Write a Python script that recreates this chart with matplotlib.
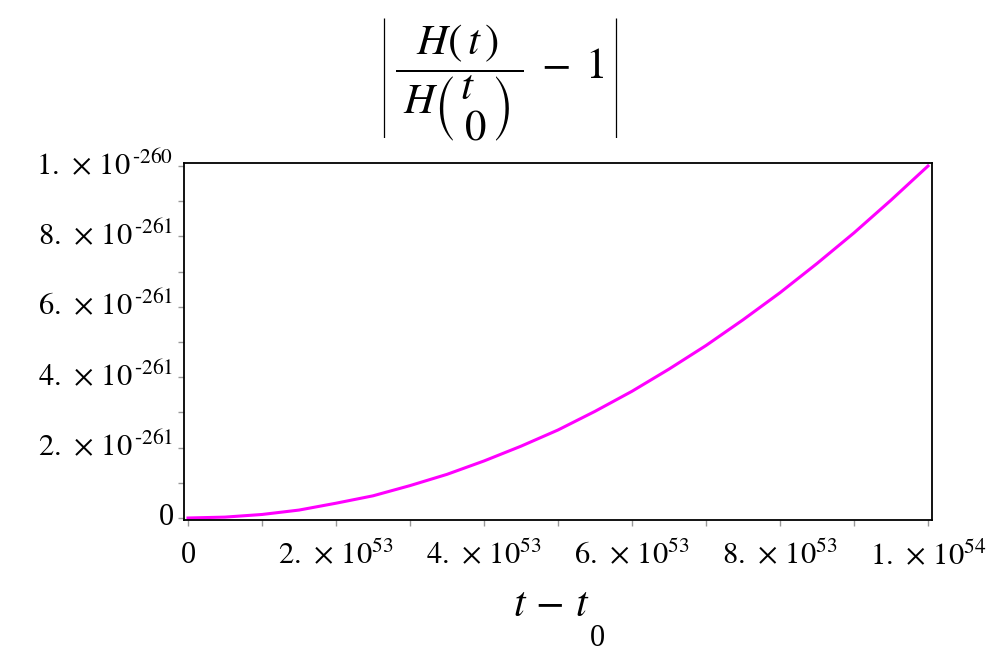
import matplotlib
matplotlib.use("Agg")
import matplotlib.pyplot as plt
from matplotlib.ticker import FixedLocator, FixedFormatter

# |H(t)/H(t0) - 1| against t - t0
# x in units of 1e53, y in units of 1e-261
t_minus_t0 = [0, 0.5, 1, 1.5, 2, 2.5, 3, 3.5, 4, 4.5, 5,
              5.5, 6, 6.5, 7, 7.5, 8, 8.5, 9, 9.5, 10]
rel_dev = [0.0, 0.025, 0.10, 0.225, 0.42, 0.63, 0.92, 1.24, 1.62, 2.04, 2.5,
           3.03, 3.6, 4.23, 4.9, 5.63, 6.4, 7.23, 8.1, 9.03, 10.0]

x_major = [0, 2, 4, 6, 8, 10]
x_labels = ["0", r"$2.\,\times\,10^{53}$", r"$4.\,\times\,10^{53}$",
            r"$6.\,\times\,10^{53}$", r"$8.\,\times\,10^{53}$", r"$1.\,\times\,10^{54}$"]
y_major = [0, 2, 4, 6, 8, 10]
y_labels = ["0", r"$2.\,\times\,10^{\,\text{-}261}$", r"$4.\,\times\,10^{\,\text{-}261}$",
            r"$6.\,\times\,10^{\,\text{-}261}$", r"$8.\,\times\,10^{\,\text{-}261}$",
            r"$1.\,\times\,10^{\,\text{-}260}$"]

plt.rcParams["font.family"] = ["Liberation Serif", "DejaVu Serif"]
plt.rcParams["mathtext.fontset"] = "stix"

fig = plt.figure(figsize=(9.97, 6.66), dpi=100)
ax = fig.add_axes([184 / 997, 1 - 520 / 666, 748 / 997, 357 / 666])

ax.plot(t_minus_t0, rel_dev, color="#ff00ff", linewidth=2.2)

ax.set_xlim(-0.054, 10.054)
ax.set_ylim(-0.057, 10.085)

ax.xaxis.set_major_locator(FixedLocator(x_major))
ax.xaxis.set_major_formatter(FixedFormatter(x_labels))
ax.xaxis.set_minor_locator(FixedLocator([1, 3, 5, 7, 9]))
ax.yaxis.set_major_locator(FixedLocator(y_major))
ax.yaxis.set_major_formatter(FixedFormatter(y_labels))
ax.yaxis.set_minor_locator(FixedLocator([1, 3, 5, 7, 9]))

ax.tick_params(which="both", direction="out", color="#999999", width=1,
               length=4, labelsize=22)
ax.tick_params(axis="x", pad=11)
ax.tick_params(axis="y", pad=3.5)
for lab in ax.get_yticklabels():
    lab.set_verticalalignment("center")

for s in ax.spines.values():
    s.set_linewidth(1.3)
    s.set_color("black")

# title: thin bars drawn as plain text, fraction as mathtext
fig.text(500 / 997, 1 - 78 / 666,
         r"$\dfrac{\;H(\,t\,)\;}{\;H\genfrac{(}{)}{0}{0}{t\;}{\;0}\;}\;-\;1$",
         ha="center", va="baseline", fontsize=31)
fig.text(384 / 997, 1 - 79 / 666, "|", ha="center", va="center",
         fontsize=92, family="Lato", fontweight="light")
fig.text(616 / 997, 1 - 79 / 666, "|", ha="center", va="center",
         fontsize=92, family="Lato", fontweight="light")

# x-axis label, Maple puts the subscript far below
fig.text(551 / 997, 1 - 606 / 666, r"$t\,-\,t$", ha="center", va="center",
         fontsize=30)
fig.text(597 / 997, 1 - 638 / 666, "0", ha="center", va="center",
         fontsize=22)

fig.savefig("out.png", dpi=100)
